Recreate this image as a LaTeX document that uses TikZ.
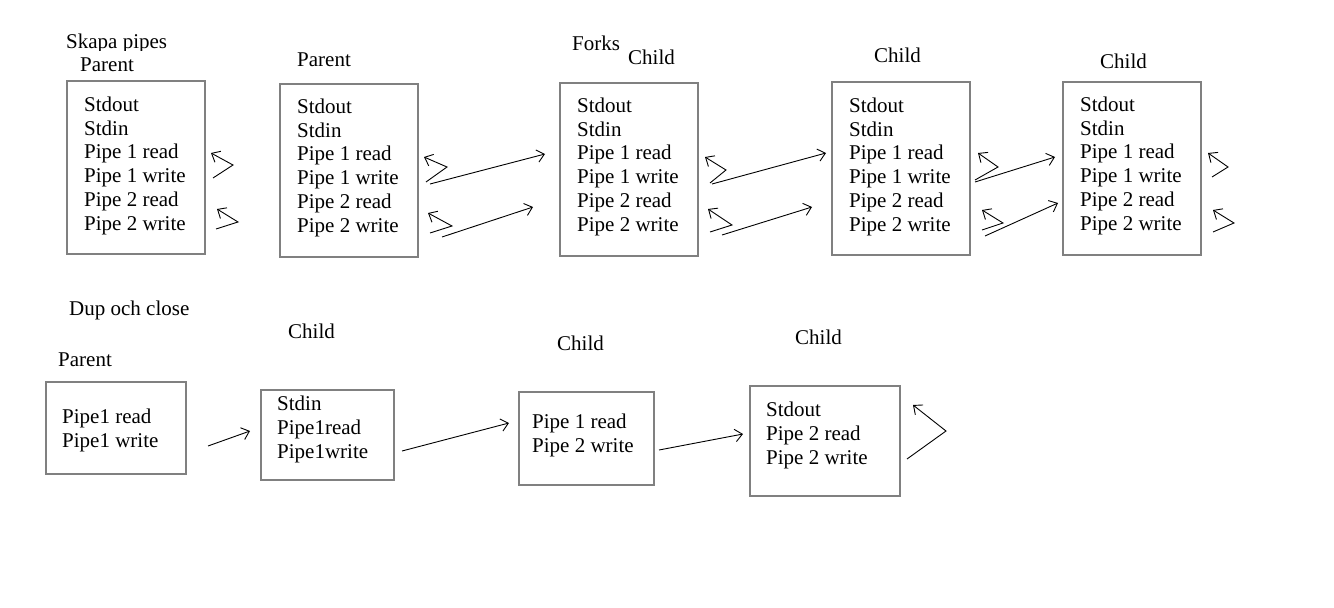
\documentclass[tikz,border=0pt]{standalone}
\usepackage{fontspec}
\setmainfont{Liberation Serif}
\usetikzlibrary{arrows.meta}
\definecolor{boxgray}{HTML}{808080}
\begin{document}
\begin{tikzpicture}[x=1pt,y=-1pt,
  box/.style={draw=boxgray, line width=1.4pt, inner sep=0pt, rectangle},
  txt/.style={align=left, inner sep=0pt, anchor=base west, font=\fontsize{21}{23.7}\selectfont},
  lbl/.style={inner sep=0pt, anchor=base west, font=\fontsize{21}{24}\selectfont},
  conn/.style={draw=black, line width=0.9pt, -{Straight Barb[length=7.2pt,width=12.5pt]}},
]
\fill[white] (0,0) rectangle (1334,608);
\useasboundingbox (0,0) rectangle (1334,608);

% ---------- top row boxes ----------
\node[box, minimum width=138pt, minimum height=173pt] (b1) at (136,167.5) {};
\node[box, minimum width=138pt, minimum height=173pt] (b2) at (349,170.5) {};
\node[box, minimum width=138pt, minimum height=173pt] (b3) at (629,169.5) {};
\node[box, minimum width=138pt, minimum height=173pt] (b4) at (901,168.5) {};
\node[box, minimum width=138pt, minimum height=173pt] (b5) at (1132,168.5) {};

% anchor "base west" is the baseline of the last line
\node[txt] (t1) at (84,230) {Stdout\\Stdin\\Pipe 1 read\\Pipe 1 write\\Pipe 2 read\\Pipe 2 write};
\node[txt] (t2) at (297,232) {Stdout\\Stdin\\Pipe 1 read\\Pipe 1 write\\Pipe 2 read\\Pipe 2 write};
\node[txt] (t3) at (577,231) {Stdout\\Stdin\\Pipe 1 read\\Pipe 1 write\\Pipe 2 read\\Pipe 2 write};
\node[txt] (t4) at (849,231) {Stdout\\Stdin\\Pipe 1 read\\Pipe 1 write\\Pipe 2 read\\Pipe 2 write};
\node[txt] (t5) at (1080,230) {Stdout\\Stdin\\Pipe 1 read\\Pipe 1 write\\Pipe 2 read\\Pipe 2 write};

% ---------- bottom row boxes ----------
\node[box, minimum width=140pt, minimum height=92pt] (b6) at (116,428) {};
\node[box, minimum width=133pt, minimum height=90pt] (b7) at (327.5,435) {};
\node[box, minimum width=135pt, minimum height=93pt] (b8) at (586.5,438.5) {};
\node[box, minimum width=150pt, minimum height=110pt] (b9) at (825,441) {};

\node[txt] (t6) at (62,447.5) {Pipe1 read\\Pipe1 write};
\node[txt] (t7) at (277,458.2) {Stdin\\Pipe1read\\Pipe1write};
\node[txt] (t8) at (532,452.5) {Pipe 1 read\\Pipe 2 write};
\node[txt] (t9) at (766,464) {Stdout\\Pipe 2 read\\Pipe 2 write};

% ---------- labels ----------
\begin{scope}
\clip (0,0) rectangle (1334,50);
\node[lbl] (skapa) at (66,48) {Skapa pipes};
\end{scope}
\node[lbl] (p1) at (80,71) {Parent};
\node[lbl] (p2) at (297,66) {Parent};
\node[lbl] (forks) at (572,50) {Forks};
\node[lbl] (c3) at (628,64) {Child};
\node[lbl] (c4) at (874,62) {Child};
\node[lbl] (c5) at (1100,68) {Child};
\node[lbl] (dup) at (69,315) {Dup och close};
\node[lbl] (p6) at (58,366) {Parent};
\node[lbl] (c7) at (288,338) {Child};
\node[lbl] (c8) at (557,350) {Child};
\node[lbl] (c9) at (795,344) {Child};

% ---------- connector points ----------
\coordinate (u1a) at (213,178); \coordinate (u1b) at (233,165); \coordinate (u1c) at (211,153);
\coordinate (d1a) at (216,229); \coordinate (d1b) at (238,222); \coordinate (d1c) at (217,209);
\coordinate (u2a) at (426,182); \coordinate (u2b) at (447,167); \coordinate (u2c) at (424,157);
\coordinate (d2a) at (430,233); \coordinate (d2b) at (452,226); \coordinate (d2c) at (428,213);
\coordinate (h2s) at (430,184); \coordinate (h2e) at (545,154);
\coordinate (k2s) at (442,237); \coordinate (k2e) at (533,207);
\coordinate (u3a) at (710,183); \coordinate (u3b) at (726,170); \coordinate (u3c) at (705,157);
\coordinate (d3a) at (710,232); \coordinate (d3b) at (732,225); \coordinate (d3c) at (708,209);
\coordinate (h3s) at (712,184); \coordinate (h3e) at (826,153);
\coordinate (k3s) at (722,235); \coordinate (k3e) at (812,207);
\coordinate (u4a) at (975,180); \coordinate (u4b) at (998,167); \coordinate (u4c) at (978,153);
\coordinate (d4a) at (982,230); \coordinate (d4b) at (1003,223); \coordinate (d4c) at (982,210);
\coordinate (h4s) at (975,182); \coordinate (h4e) at (1055,157);
\coordinate (k4s) at (985,236); \coordinate (k4e) at (1058,203);
\coordinate (u5a) at (1212,177); \coordinate (u5b) at (1228,167); \coordinate (u5c) at (1208,153);
\coordinate (d5a) at (1213,232); \coordinate (d5b) at (1234,223); \coordinate (d5c) at (1213,210);

\coordinate (e1s) at (208,446); \coordinate (e1e) at (250,431);
\coordinate (e2s) at (402,451); \coordinate (e2e) at (509,423);
\coordinate (e3s) at (659,450); \coordinate (e3e) at (743,434);
\coordinate (ba) at (907,459); \coordinate (bb) at (946,431); \coordinate (bc) at (913,405);

% ---------- connectors ----------
\draw[conn] (u1a) -- (u1b) -- (u1c);
\draw[conn] (d1a) -- (d1b) -- (d1c);
\draw[conn] (u2a) -- (u2b) -- (u2c);
\draw[conn] (d2a) -- (d2b) -- (d2c);
\draw[conn] (h2s) -- (h2e);
\draw[conn] (k2s) -- (k2e);
\draw[conn] (u3a) -- (u3b) -- (u3c);
\draw[conn] (d3a) -- (d3b) -- (d3c);
\draw[conn] (h3s) -- (h3e);
\draw[conn] (k3s) -- (k3e);
\draw[conn] (u4a) -- (u4b) -- (u4c);
\draw[conn] (d4a) -- (d4b) -- (d4c);
\draw[conn] (h4s) -- (h4e);
\draw[conn] (k4s) -- (k4e);
\draw[conn] (u5a) -- (u5b) -- (u5c);
\draw[conn] (d5a) -- (d5b) -- (d5c);
\draw[conn] (e1s) -- (e1e);
\draw[conn] (e2s) -- (e2e);
\draw[conn] (e3s) -- (e3e);
\draw[conn] (ba) -- (bb) -- (bc);
\end{tikzpicture}
\end{document}
